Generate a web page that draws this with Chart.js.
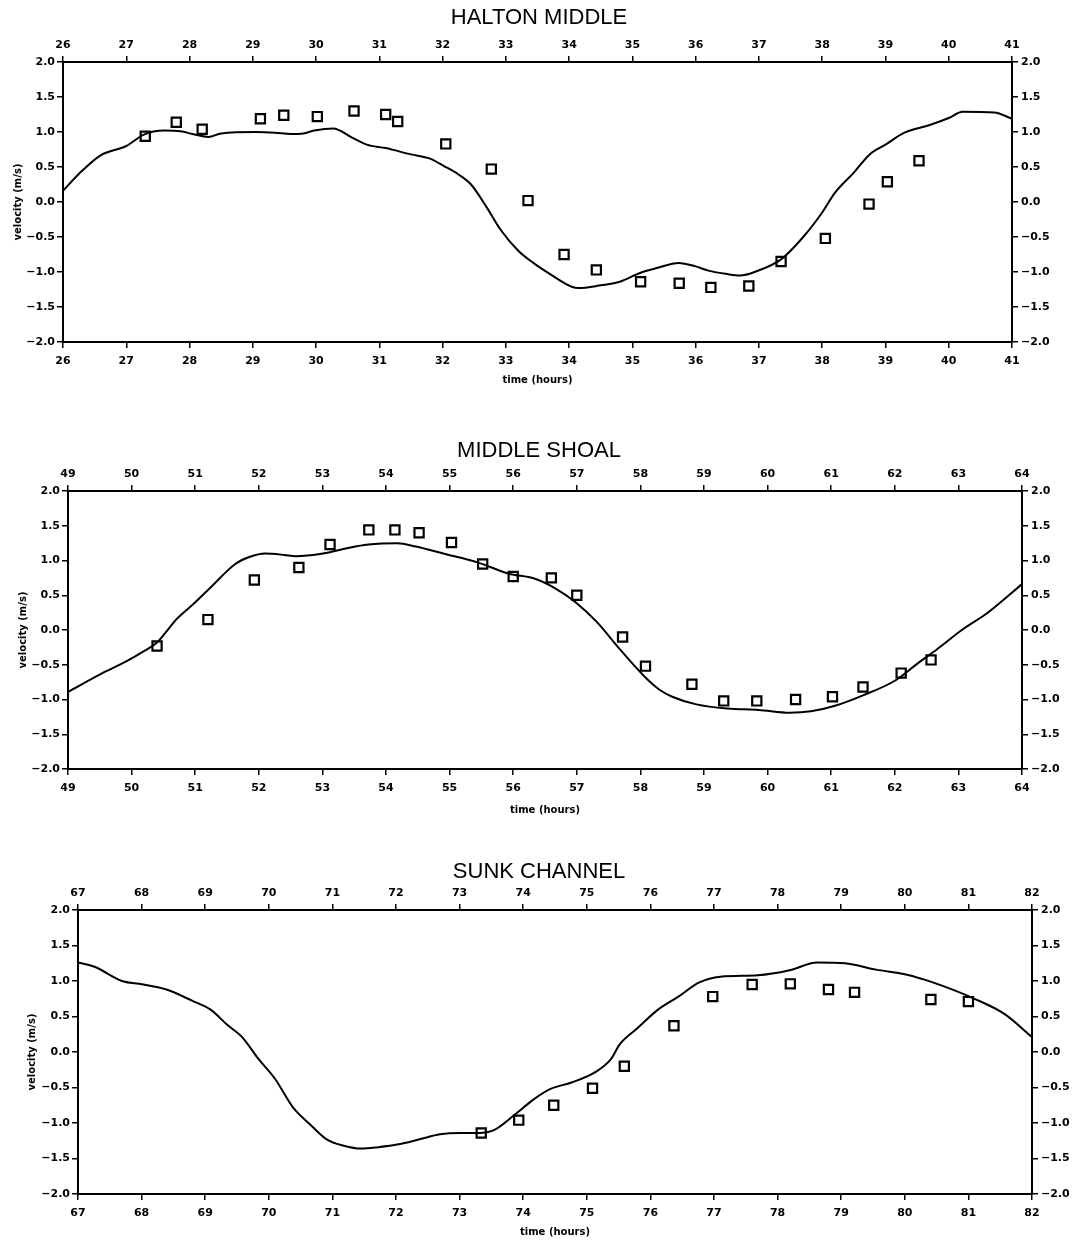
<!DOCTYPE html>
<html>
<head>
<meta charset="utf-8">
<script src="https://cdn.jsdelivr.net/npm/chart.js@4.4.0/dist/chart.umd.min.js"></script>
<style>
  body { margin: 0; background: #fff; }
  .panel { position: absolute; left: 0; }
</style>
</head>
<body>
<div class="panel" style="top:0px"><canvas id="c1" width="1078" height="386"></canvas></div>
<div class="panel" style="top:425px"><canvas id="c2" width="1078" height="391"></canvas></div>
<div class="panel" style="top:845px"><canvas id="c3" width="1078" height="393"></canvas></div>
<script>
// HALTON MIDDLE
var haltonTime = [26.0, 26.25, 26.6, 27.0, 27.27, 27.6, 27.86, 28.05, 28.3, 28.5, 29.05, 29.35, 29.6, 29.8, 29.97, 30.27, 30.57, 30.8, 31.1, 31.5, 31.8, 32.03, 32.24, 32.45, 32.7, 32.92, 33.2, 33.45, 33.7, 34.04, 34.15, 34.5, 34.8, 35.13, 35.4, 35.73, 36.0, 36.2, 36.5, 36.7, 36.96, 37.35, 37.7, 38.0, 38.2, 38.5, 38.75, 39.0, 39.3, 39.7, 40.0, 40.22, 40.72, 41.0];
var haltonModel = [0.16, 0.40, 0.67, 0.80, 0.96, 1.02, 1.01, 0.97, 0.93, 0.98, 1.00, 0.99, 0.97, 0.98, 1.02, 1.05, 0.92, 0.82, 0.77, 0.68, 0.62, 0.51, 0.40, 0.25, -0.08, -0.40, -0.70, -0.88, -1.03, -1.21, -1.23, -1.19, -1.14, -1.01, -0.94, -0.87, -0.92, -0.98, -1.03, -1.05, -0.99, -0.82, -0.50, -0.15, 0.13, 0.42, 0.68, 0.82, 0.99, 1.10, 1.20, 1.29, 1.28, 1.19];
var haltonObsTime = [27.3, 27.79, 28.2, 29.12, 29.49, 30.02, 30.6, 31.1, 31.29, 32.05, 32.77, 33.35, 33.92, 34.43, 35.13, 35.74, 36.24, 36.84, 37.35, 38.05, 38.74, 39.03, 39.53];
var haltonObs = [0.94, 1.14, 1.04, 1.19, 1.24, 1.22, 1.30, 1.25, 1.15, 0.83, 0.47, 0.02, -0.75, -0.97, -1.14, -1.16, -1.22, -1.20, -0.85, -0.52, -0.03, 0.29, 0.59];

// MIDDLE SHOAL
var shoalTime = [49.0, 49.52, 49.9, 50.2, 50.4, 50.55, 50.7, 50.98, 51.25, 51.63, 51.85, 52.1, 52.4, 52.58, 53.01, 53.4, 53.72, 54.18, 54.47, 54.9, 55.45, 55.93, 56.33, 56.66, 56.98, 57.31, 57.69, 58.12, 58.3, 58.5, 58.88, 59.37, 59.86, 60.35, 60.68, 61.06, 61.5, 62.0, 62.36, 62.66, 63.07, 63.45, 64.0];
var shoalModel = [-0.89, -0.63, -0.46, -0.30, -0.18, -0.02, 0.15, 0.38, 0.62, 0.95, 1.05, 1.10, 1.08, 1.06, 1.10, 1.18, 1.23, 1.25, 1.20, 1.10, 0.97, 0.81, 0.74, 0.60, 0.40, 0.12, -0.29, -0.72, -0.86, -0.96, -1.07, -1.13, -1.15, -1.19, -1.17, -1.09, -0.94, -0.73, -0.48, -0.28, 0.01, 0.24, 0.66];
var shoalObsTime = [50.4, 51.2, 51.93, 52.63, 53.12, 53.73, 54.14, 54.52, 55.03, 55.52, 56.0, 56.6, 57.0, 57.72, 58.08, 58.81, 59.31, 59.83, 60.44, 61.02, 61.5, 62.1, 62.57];
var shoalObs = [-0.23, 0.15, 0.72, 0.90, 1.23, 1.44, 1.44, 1.40, 1.26, 0.95, 0.77, 0.75, 0.50, -0.10, -0.52, -0.78, -1.02, -1.02, -1.00, -0.96, -0.82, -0.62, -0.43];

// SUNK CHANNEL
var sunkTime = [67.0, 67.26, 67.69, 67.96, 68.39, 68.8, 69.08, 69.35, 69.57, 69.84, 70.1, 70.38, 70.65, 70.91, 71.18, 71.45, 71.72, 72.04, 72.37, 72.69, 73.01, 73.33, 73.54, 73.87, 74.16, 74.43, 74.76, 75.14, 75.38, 75.52, 75.79, 76.11, 76.44, 76.77, 77.1, 77.69, 78.19, 78.62, 79.06, 79.55, 79.98, 80.31, 80.69, 81.07, 81.56, 82.0];
var sunkModel = [1.26, 1.20, 1.00, 0.96, 0.88, 0.72, 0.60, 0.38, 0.22, -0.10, -0.38, -0.78, -1.02, -1.23, -1.32, -1.36, -1.34, -1.30, -1.23, -1.16, -1.14, -1.14, -1.10, -0.88, -0.67, -0.52, -0.43, -0.28, -0.10, 0.11, 0.33, 0.59, 0.78, 0.98, 1.06, 1.08, 1.15, 1.26, 1.25, 1.16, 1.10, 1.02, 0.90, 0.76, 0.54, 0.21];
var sunkObsTime = [73.34, 73.93, 74.48, 75.09, 75.59, 76.37, 76.98, 77.6, 78.2, 78.8, 79.21, 80.41, 81.0];
var sunkObs = [-1.14, -0.96, -0.75, -0.51, -0.20, 0.37, 0.78, 0.95, 0.96, 0.88, 0.84, 0.74, 0.71];

var velocityTicks = [-2.0, -1.5, -1.0, -0.5, 0.0, 0.5, 1.0, 1.5, 2.0];

Chart.defaults.font.family = 'DejaVu Sans';
Chart.defaults.color = '#000';

function pairs(xs, ys) {
	var out = [];
	for (var i = 0; i < xs.length; i++) {
		out.push({x: xs[i], y: ys[i]});
	}
	return out;
}

function fmtVel(v) {
	return (v < 0 ? '\u2212' : '') + Math.abs(v).toFixed(1);
}

function xAxis(p, pos) {
	return {
		type: 'linear',
		position: pos,
		min: p.tMin,
		max: p.tMax,
		ticks: {
			stepSize: 1,
			autoSkip: false,
			maxRotation: 0,
			padding: pos == 'top' ? 4 : 7,
			font: {size: 11, weight: 'bold'},
			display: true
		},
		grid: {drawOnChartArea: false, drawTicks: true, tickLength: 6, color: '#000', lineWidth: 1.5},
		border: {display: true, color: '#000', width: 2},
		title: {
			display: pos == 'bottom',
			text: 'time (hours)',
			font: {size: 10, weight: 'bold'},
			padding: 0
		},
		afterFit: function(scale) {
			scale.height = pos == 'top' ? p.topH : p.botH;
		}
	};
}

function yAxis(p, pos) {
	return {
		type: 'linear',
		position: pos,
		min: -2,
		max: 2,
		afterBuildTicks: function(scale) {
			scale.ticks = velocityTicks.map(function(v) { return {value: v}; });
		},
		ticks: {
			padding: pos == 'left' ? 2 : 3,
			font: {size: 11, weight: 'bold'},
			callback: function(v) { return fmtVel(v); }
		},
		grid: {drawOnChartArea: false, drawTicks: true, tickLength: 6, color: '#000', lineWidth: 1.5},
		border: {display: true, color: '#000', width: 2},
		title: {
			display: pos == 'left',
			text: 'velocity (m/s)',
			font: {size: 10, weight: 'bold'},
			padding: {top: p.yTitlePad, bottom: 0}
		},
		afterFit: function(scale) {
			scale.width = pos == 'left' ? p.left : 1078 - p.right;
		}
	};
}

function drawPanel(id, p) {
	var ctx = document.getElementById(id).getContext('2d');
	new Chart(ctx, {
		type: 'scatter',
		data: {
			datasets: [
				{
					type: 'line',
					data: pairs(p.lineT, p.lineV),
					borderColor: '#000',
					borderWidth: 2,
					pointRadius: 0,
					fill: false,
					cubicInterpolationMode: 'monotone',
					xAxisID: 'x',
					yAxisID: 'y'
				},
				{
					type: 'scatter',
					data: pairs(p.obsT, p.obsV),
					pointStyle: 'rect',
					pointRadius: 6.5,
					borderColor: '#000',
					backgroundColor: '#fff',
					borderWidth: 2.2,
					xAxisID: 'x',
					yAxisID: 'y'
				}
			]
		},
		options: {
			responsive: false,
			animation: false,
			layout: {padding: 0},
			plugins: {
				legend: {display: false},
				tooltip: {enabled: false},
				title: {
					display: true,
					text: p.title,
					font: {family: 'Liberation Sans', size: 22, weight: 'normal'},
					padding: {top: p.titlePad, bottom: 0}
				}
			},
			scales: {
				x: xAxis(p, 'bottom'),
				x2: xAxis(p, 'top'),
				y: yAxis(p, 'left'),
				y2: yAxis(p, 'right')
			}
		}
	});
}

drawPanel('c1', {
	title: 'HALTON MIDDLE', tMin: 26, tMax: 41,
	lineT: haltonTime, lineV: haltonModel, obsT: haltonObsTime, obsV: haltonObs,
	left: 63, right: 1012, titlePad: 5, topH: 30.6, botH: 44, yTitlePad: 12
});
drawPanel('c2', {
	title: 'MIDDLE SHOAL', tMin: 49, tMax: 64,
	lineT: shoalTime, lineV: shoalModel, obsT: shoalObsTime, obsV: shoalObs,
	left: 68, right: 1022, titlePad: 12.3, topH: 27.3, botH: 47, yTitlePad: 17
});
drawPanel('c3', {
	title: 'SUNK CHANNEL', tMin: 67, tMax: 82,
	lineT: sunkTime, lineV: sunkModel, obsT: sunkObsTime, obsV: sunkObs,
	left: 78, right: 1032, titlePad: 13.3, topH: 25.3, botH: 44, yTitlePad: 26
});
</script>
</body>
</html>
